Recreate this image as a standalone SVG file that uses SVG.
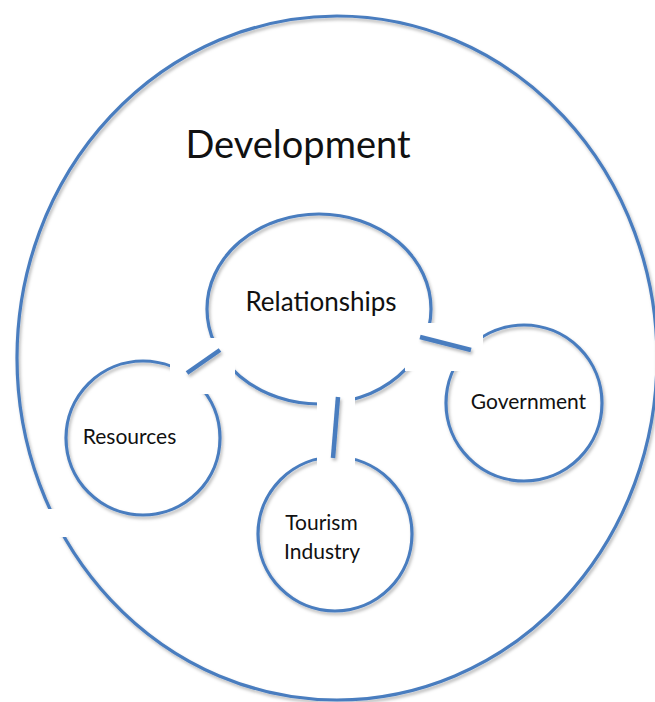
<svg xmlns="http://www.w3.org/2000/svg" width="655" height="702" viewBox="0 0 655 702">
<defs>
<filter id="sh" x="-10%" y="-10%" width="120%" height="120%">
<feDropShadow dx="1.5" dy="2.5" stdDeviation="1.5" flood-color="#000" flood-opacity="0.28"/>
</filter>
<style>
.ring{fill:none;stroke:#4a7dbf;stroke-width:3.2}
.conn{stroke:#4a7dbf;stroke-width:4.5;stroke-linecap:butt}
.mask{fill:#fff;stroke:none}
.lbl{font-family:Lato,"Open Sans","Liberation Sans",sans-serif;fill:#111;text-anchor:middle}
</style>
</defs>
<rect width="655" height="702" fill="#fff"/>
<g id="development" filter="url(#sh)">
<ellipse class="ring" cx="337" cy="358" rx="320" ry="342"/>
</g>
<g id="relationships" filter="url(#sh)">
<ellipse class="ring" cx="319" cy="309" rx="112" ry="95"/>
</g>
<g id="resources" filter="url(#sh)">
<circle class="ring" cx="143" cy="438" r="77"/>
</g>
<g id="tourism" filter="url(#sh)">
<circle class="ring" cx="335" cy="534" r="77"/>
</g>
<g id="government" filter="url(#sh)">
<circle class="ring" cx="524" cy="403" r="78"/>
</g>
<g id="connectors">
<rect class="mask" x="0" y="509" width="68" height="28"/>
<rect class="mask" x="170" y="338" width="65" height="56"/>
<rect class="mask" x="317" y="390" width="38" height="77"/>
<rect class="mask" x="405" y="323" width="78" height="48"/>
<g filter="url(#sh)">
<line class="conn" x1="187" y1="373" x2="220" y2="350"/>
<line class="conn" x1="338" y1="397" x2="333" y2="458"/>
<line class="conn" x1="420" y1="337" x2="471" y2="350"/>
</g>
</g>
<g id="labels">
<text class="lbl" x="298" y="158" font-size="38">Development</text>
<text class="lbl" x="321" y="311" font-size="26">Relationships</text>
<text class="lbl" x="129.5" y="444" font-size="21">Resources</text>
<text class="lbl" x="528.5" y="409" font-size="21">Government</text>
<text class="lbl" x="321.5" y="530" font-size="21">Tourism</text>
<text class="lbl" x="322" y="559" font-size="21">Industry</text>
</g>
</svg>
